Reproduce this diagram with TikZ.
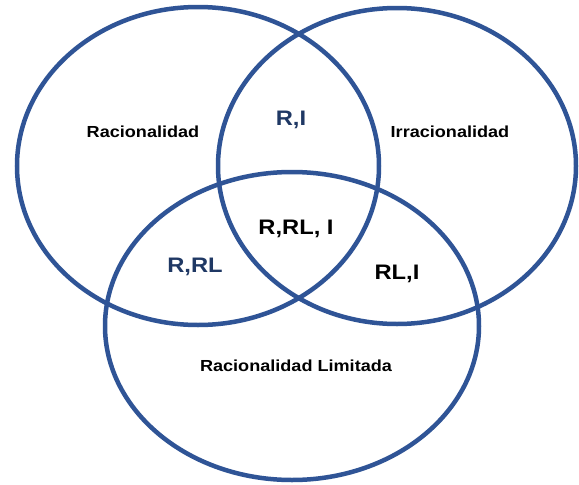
\documentclass[tikz,border=0pt]{standalone}
\usepackage{fontspec}
\setmainfont{Liberation Sans}
\usepackage{graphicx}
\definecolor{ringblue}{RGB}{47,84,150}
\definecolor{navy}{RGB}{31,56,100}
\tikzset{
  ring/.style={draw=ringblue, line width=4.5pt},
  setlabel/.style={font=\bfseries\fontsize{16}{19}\selectfont, text=black, inner sep=0pt},
  biglabel/.style={font=\bfseries\fontsize{21}{25}\selectfont, inner sep=0pt},
}
\newcommand{\wide}[1]{\scalebox{1.13}[1]{#1}}
\begin{document}
\begin{tikzpicture}[x=1pt,y=-1pt]
\useasboundingbox (0,0) rectangle (579,485);
\fill[white] (0,0) rectangle (579,485);
% circles
\draw[ring] (198,166) ellipse [x radius=181pt, y radius=159pt];
\draw[ring] (397,166) ellipse [x radius=179pt, y radius=158pt];
\draw[ring] (292,326) ellipse [x radius=187pt, y radius=154pt];
% set labels
\node[setlabel] (rac) at (143,132) {\wide{Racionalidad}};
\node[setlabel] (irr) at (450,132) {\wide{Irracionalidad}};
\node[setlabel] (lim) at (296,366) {\wide{Racionalidad Limitada}};
% intersection labels
\node[biglabel, text=navy] (ri) at (291,120) {\wide{R,I}};
\node[biglabel, text=black] (rrli) at (296,229) {\wide{R,RL, I}};
\node[biglabel, text=navy] (rrl) at (195,267) {\wide{R,RL}};
\node[biglabel, text=black] (rli) at (397,274) {\wide{RL,I}};
\end{tikzpicture}
\end{document}
